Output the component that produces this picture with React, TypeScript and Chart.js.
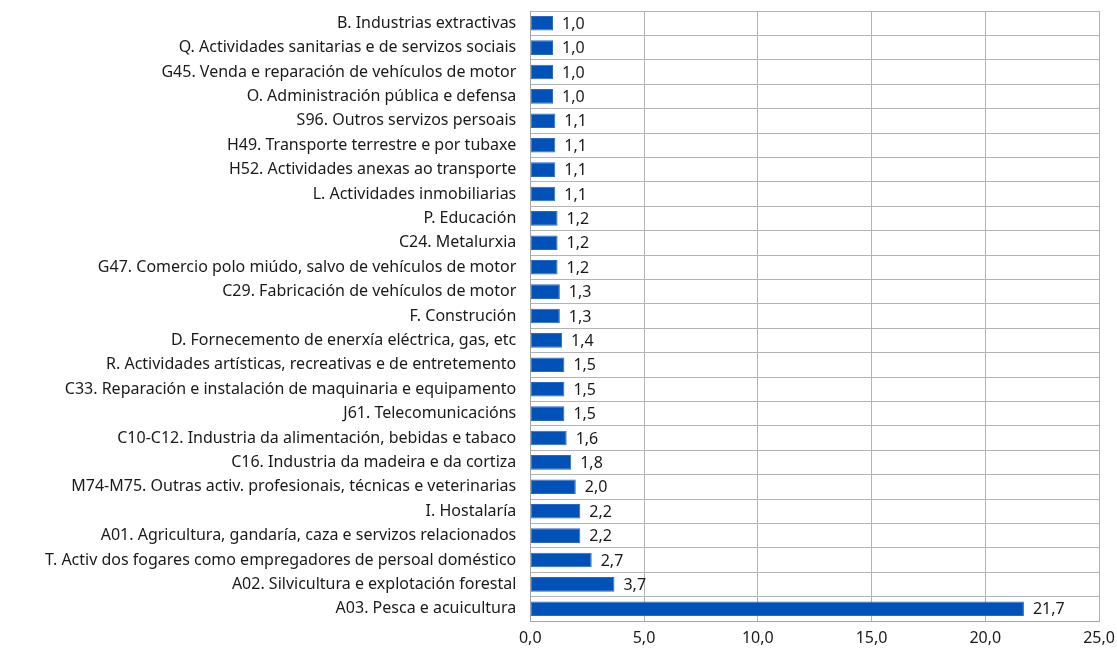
import React, { useEffect, useRef } from "react";
import { Chart, registerables } from "chart.js";

Chart.register(...registerables);

const categories: string[] = [
  "B. Industrias extractivas",
  "Q. Actividades sanitarias e de servizos sociais",
  "G45. Venda e reparación de vehículos de motor",
  "O. Administración pública e defensa",
  "S96. Outros servizos persoais",
  "H49. Transporte terrestre e por tubaxe",
  "H52. Actividades anexas ao transporte",
  "L. Actividades inmobiliarias",
  "P. Educación",
  "C24. Metalurxia",
  "G47. Comercio polo miúdo, salvo de vehículos de motor",
  "C29. Fabricación de vehículos de motor",
  "F. Construción",
  "D. Fornecemento de enerxía eléctrica, gas, etc",
  "R. Actividades artísticas, recreativas e de entretemento",
  "C33. Reparación e instalación de maquinaria e equipamento",
  "J61. Telecomunicacións",
  "C10-C12. Industria da alimentación, bebidas e tabaco",
  "C16. Industria da madeira e da cortiza",
  "M74-M75. Outras activ. profesionais, técnicas e veterinarias",
  "I. Hostalaría",
  "A01. Agricultura, gandaría, caza e servizos relacionados",
  "T. Activ dos fogares como empregadores de persoal doméstico",
  "A02. Silvicultura e explotación forestal",
  "A03. Pesca e acuicultura",
];

const values: number[] = [
  1.0, 1.0, 1.0, 1.0, 1.1, 1.1, 1.1, 1.1, 1.2, 1.2, 1.2, 1.3, 1.3, 1.4, 1.5,
  1.5, 1.5, 1.6, 1.8, 2.0, 2.2, 2.2, 2.7, 3.7, 21.7,
];

const xMin = 0;
const xMax = 25;
const xStep = 5;

const fmt = (v: number) => v.toFixed(1).replace(".", ",");

const FONT = "'Noto Sans', 'Open Sans', sans-serif";
const FS = 16;

const valueLabels = {
  id: "valueLabels",
  afterDatasetsDraw(chart: any) {
    const { ctx } = chart;
    const meta = chart.getDatasetMeta(0);
    ctx.save();
    ctx.font = `${FS}px ${FONT}`;
    ctx.fillStyle = "#1a1a1a";
    ctx.textAlign = "left";
    ctx.textBaseline = "middle";
    meta.data.forEach((bar: any, i: number) => {
      ctx.fillText(fmt(values[i]), bar.x + 9, bar.y + 1);
    });
    ctx.restore();
  },
};

export default function App() {
  const ref = useRef<HTMLCanvasElement | null>(null);
  useEffect(() => {
    if (!ref.current) return;
    const chart = new Chart(ref.current, {
      type: "bar",
      data: {
        labels: categories,
        datasets: [
          {
            data: values,
            backgroundColor: "#0052B9",
            borderColor: "#2c68c6",
            borderWidth: 1,
            borderSkipped: false,
            barPercentage: 0.6,
            categoryPercentage: 1,
          },
        ],
      },
      options: {
        indexAxis: "y",
        animation: false,
        responsive: false,
        maintainAspectRatio: false,
        layout: { padding: { top: 11, left: 31, right: 0, bottom: 2 } },
        plugins: {
          legend: { display: false },
          tooltip: { enabled: false },
        },
        scales: {
          x: {
            min: xMin,
            max: xMax,
            grid: { color: "#b3b3b3", drawTicks: false, lineWidth: 1 },
            border: { display: true, color: "#a6a6a6" },
            ticks: {
              stepSize: xStep,
              padding: 8,
              color: "#1a1a1a",
              font: { family: FONT, size: FS },
              callback: (v: any) => fmt(Number(v)),
            },
            afterFit: (scale: any) => {
              scale.height = 27;
              scale.paddingRight = 18;
            },
          },
          y: {
            grid: { color: "#b3b3b3", drawTicks: false, offset: true },
            border: { display: true, color: "#a6a6a6" },
            ticks: {
              padding: 14,
              color: "#1a1a1a",
              font: { family: FONT, size: FS },
              autoSkip: false,
            },
            afterFit: (scale: any) => {
              scale.paddingTop = 0;
              scale.paddingBottom = 0;
            },
          },
        },
      },
      plugins: [valueLabels],
    });
    return () => chart.destroy();
  }, []);
  return (
    <div style={{ position: "fixed", left: 0, top: 0, width: 1117, height: 650, background: "#fff" }}>
      <canvas ref={ref} width={1117} height={650} style={{ display: "block" }} />
    </div>
  );
}
